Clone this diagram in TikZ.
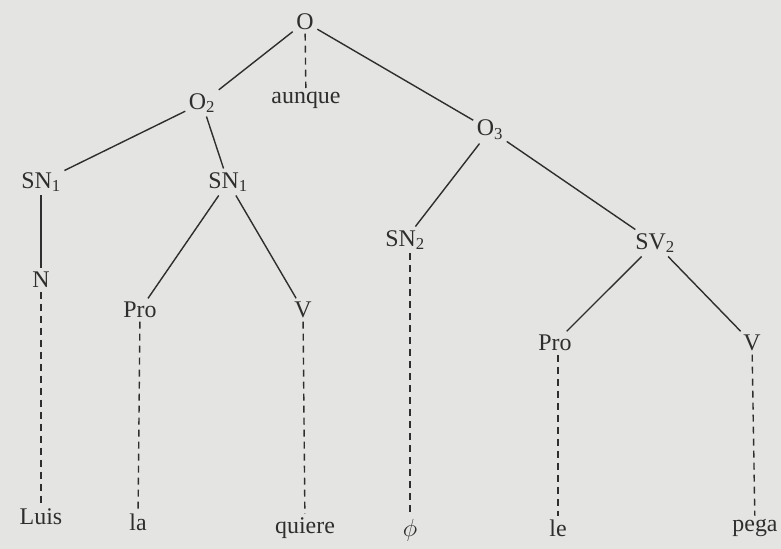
\documentclass[tikz,border=0pt]{standalone}
\usepackage{fontspec}
\setmainfont{Liberation Serif}
\usepackage{xcolor}
\definecolor{bg}{HTML}{E4E4E2}
\definecolor{ink}{HTML}{2E2E2E}
\begin{document}
\begin{tikzpicture}[x=1bp,y=-1bp,
  lab/.style={text=ink,inner sep=3.5bp,font=\fontsize{24}{28}\selectfont},
  edge/.style={draw=ink,line width=1.4bp},
  dedge/.style={draw=ink,line width=1.4bp,dash pattern=on 7bp off 5bp}]
\fill[bg] (0,0) rectangle (781,549);
\useasboundingbox (0,0) rectangle (781,549);
\node[lab] (O) at (305,22) {O};
\node[lab] (aunque) at (306,100) {aunque};
\node[lab] (O2) at (202,103) {O\textsubscript{2}};
\node[lab] (O3) at (490,130) {O\textsubscript{3}};
\node[lab] (SN1a) at (41,182) {SN\textsubscript{1}};
\node[lab] (SN1b) at (228,182) {SN\textsubscript{1}};
\node[lab] (N) at (41,280) {N};
\node[lab] (Pro1) at (140,310) {Pro};
\node[lab] (V1) at (303,310) {V};
\node[lab] (SN2) at (405,240) {SN\textsubscript{2}};
\node[lab] (SV2) at (655,243) {SV\textsubscript{2}};
\node[lab] (Pro2) at (555,343) {Pro};
\node[lab] (V2) at (752,343) {V};
\node[lab] (Luis) at (41,517) {Luis};
\node[lab] (la) at (138,522) {la};
\node[lab] (quiere) at (305,528) {quiere};
\node[lab] (phi) at (410,530) {$\phi$};
\node[lab] (le) at (558,528) {le};
\node[lab] (pega) at (755,528) {pega};
\draw[edge] (O) -- (O2);
\draw[edge] (O) -- (O3);
\draw[dedge] (O) -- (aunque);
\draw[edge] (O2) -- (SN1a);
\draw[edge] (O2) -- (SN1b);
\draw[edge] (N |- SN1a.south) -- (N);
\draw[dedge] (N) -- (Luis);
\draw[edge] (SN1b) -- (Pro1);
\draw[edge] (SN1b) -- (V1);
\draw[dedge] (Pro1) -- (la);
\draw[dedge] (V1) -- (quiere);
\draw[edge] (O3) -- (SN2);
\draw[edge] (O3) -- (SV2);
\draw[dedge] (phi |- SN2.south) -- (phi.north);
\draw[edge] (SV2) -- (Pro2);
\draw[edge] (SV2) -- (V2);
\draw[dedge] (le |- Pro2.south) -- (le.north);
\draw[dedge] (V2) -- (pega);
\end{tikzpicture}
\end{document}
